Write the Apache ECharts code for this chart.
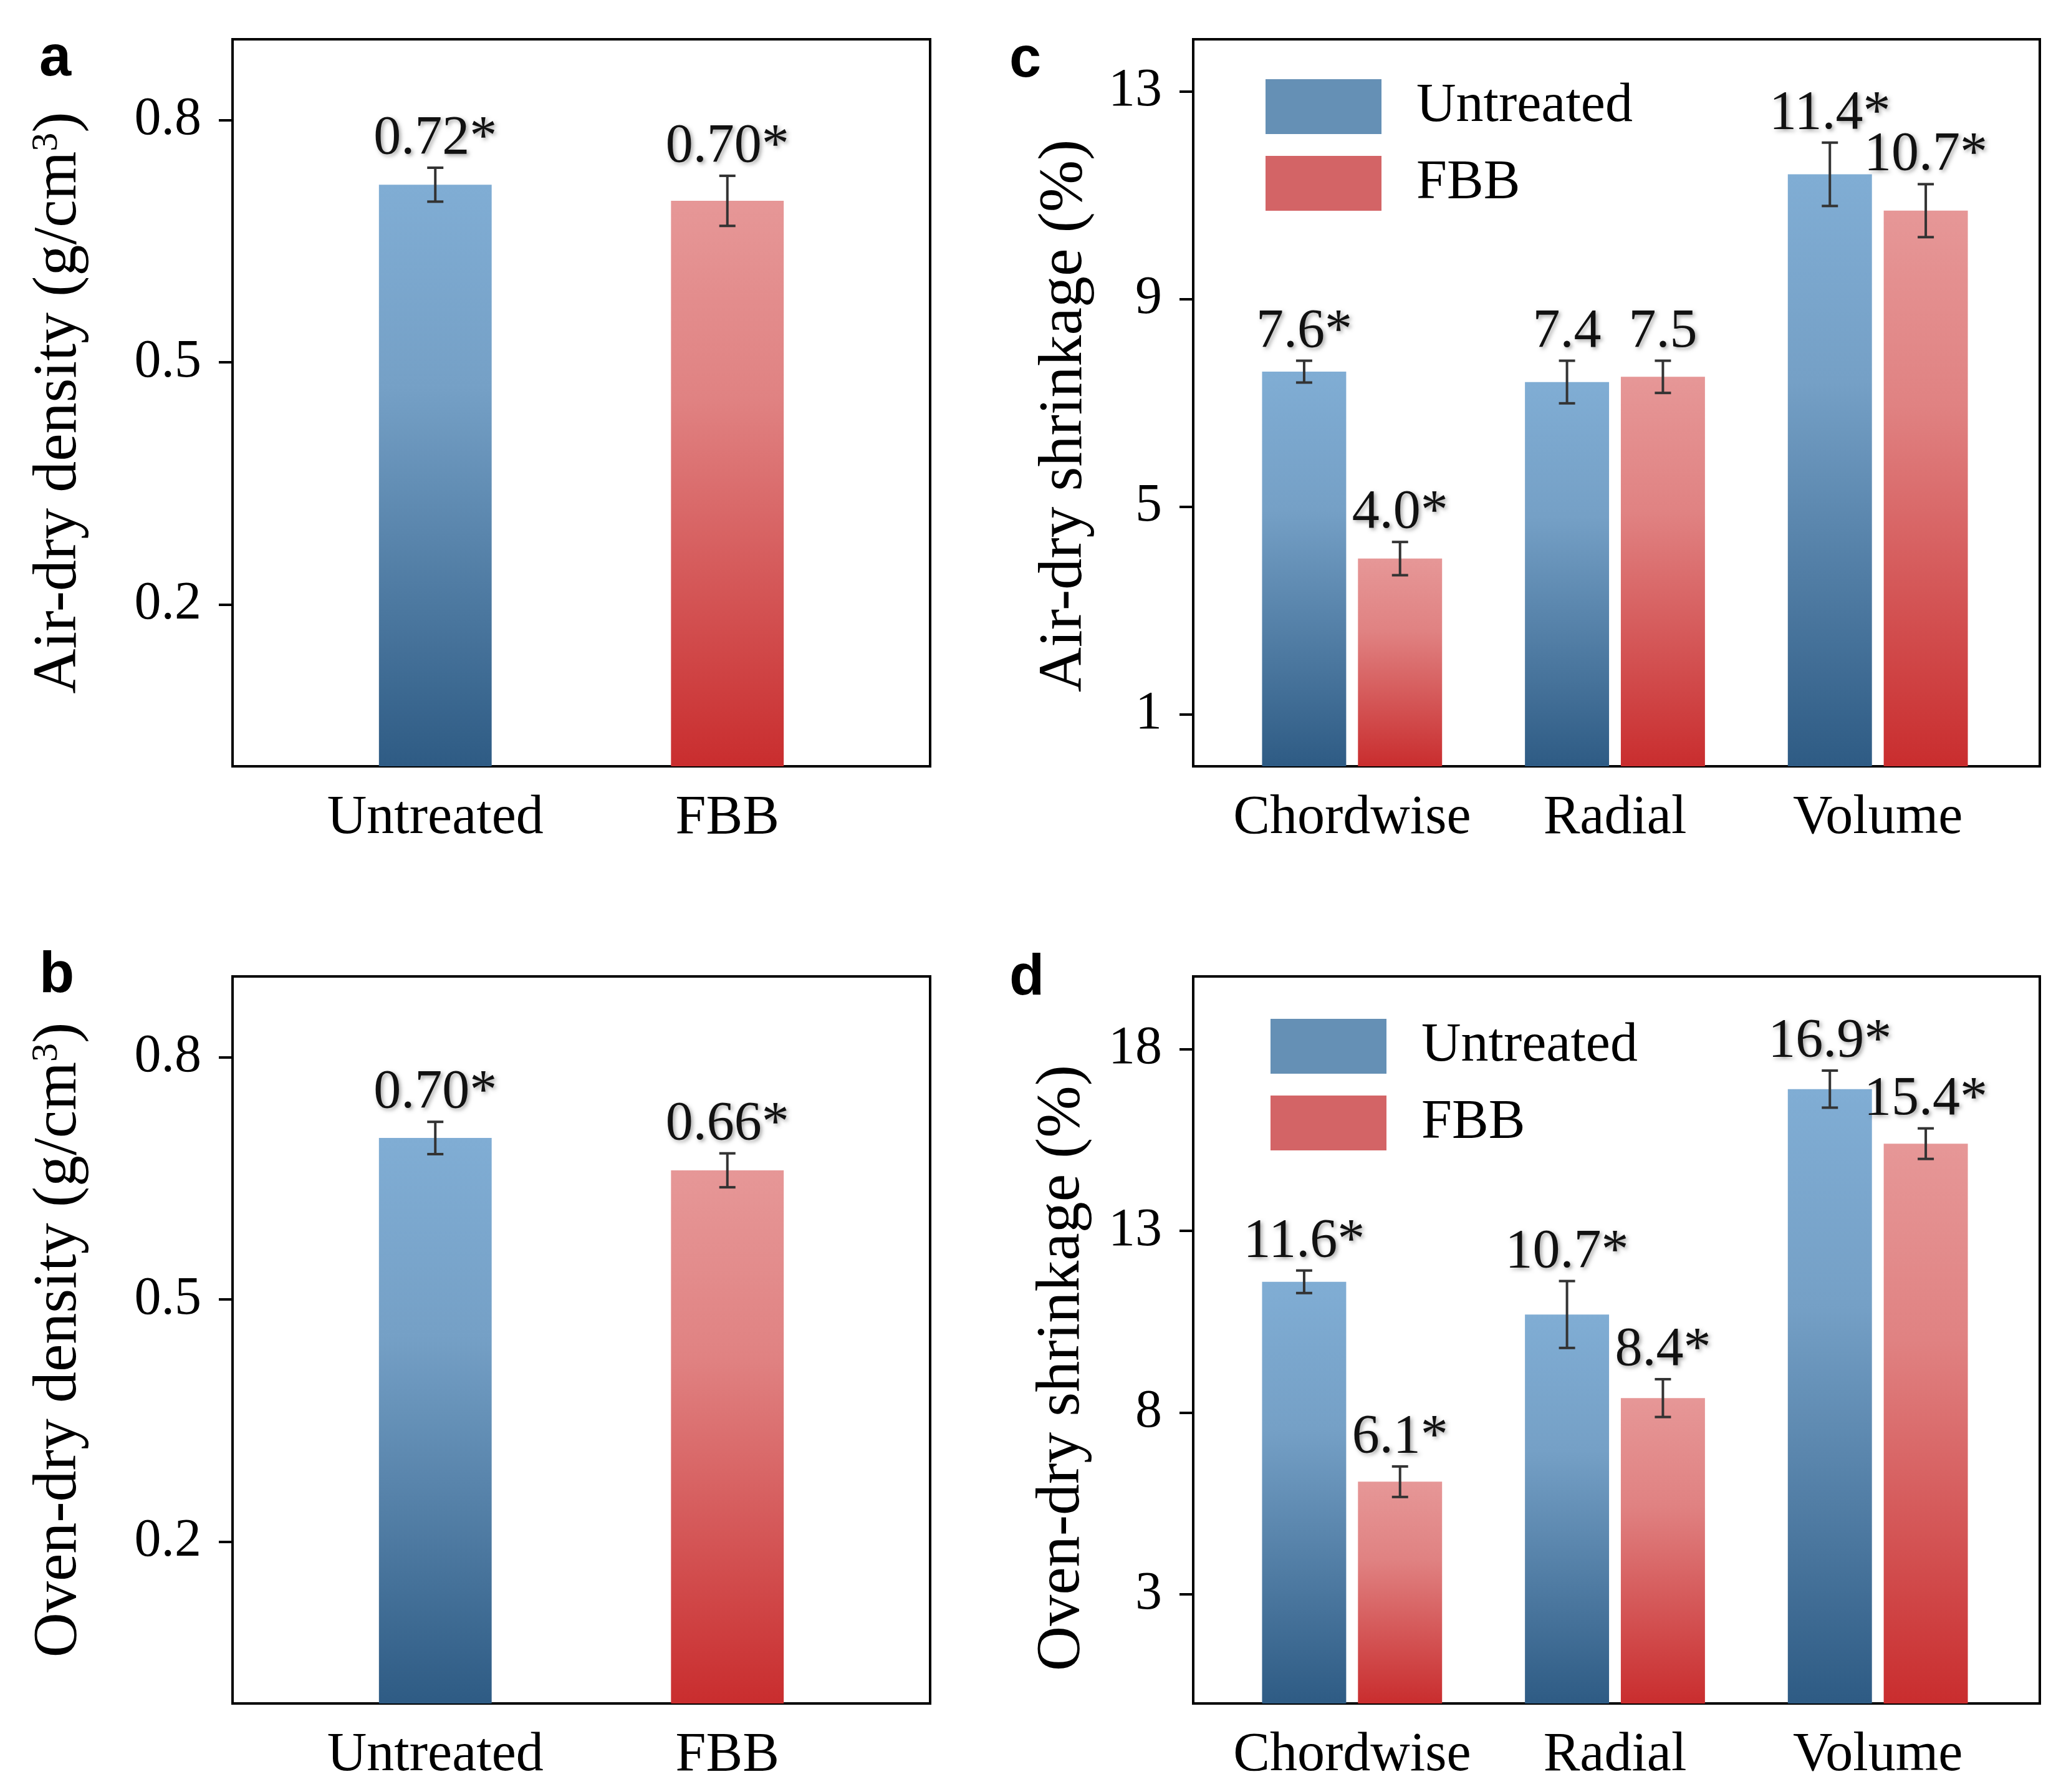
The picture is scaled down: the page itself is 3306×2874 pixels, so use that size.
<!DOCTYPE html>
<html><head><meta charset="utf-8">
<script src="https://cdn.jsdelivr.net/npm/echarts@6/dist/echarts.min.js"></script>
<style>html,body{margin:0;padding:0;background:#fff}#c{width:3306px;height:2874px}</style>
</head><body><div id="c"></div><script>
// ---- data ----
const densityCategories = ['Untreated', 'FBB'];
const shrinkCategories = ['Chordwise', 'Radial', 'Volume'];

const airDensity = [0.72, 0.70];
const airDensityErr = [0.021, 0.031];
const airDensitySig = ['*', '*'];

const ovenDensity = [0.70, 0.66];
const ovenDensityErr = [0.020, 0.021];
const ovenDensitySig = ['*', '*'];

const airShrinkUntreated = [7.6, 7.4, 11.4];
const airShrinkUntreatedErr = [0.21, 0.41, 0.61];
const airShrinkUntreatedSig = ['*', '', '*'];
const airShrinkFBB = [4.0, 7.5, 10.7];
const airShrinkFBBErr = [0.32, 0.31, 0.51];
const airShrinkFBBSig = ['*', '', '*'];

const ovenShrinkUntreated = [11.6, 10.7, 16.9];
const ovenShrinkUntreatedErr = [0.31, 0.92, 0.51];
const ovenShrinkUntreatedSig = ['*', '*', '*'];
const ovenShrinkFBB = [6.1, 8.4, 15.4];
const ovenShrinkFBBErr = [0.42, 0.52, 0.42];
const ovenShrinkFBBSig = ['*', '*', '*'];

const densityTicks = [0.2, 0.5, 0.8];
const airShrinkTicks = [1, 5, 9, 13];
const ovenShrinkTicks = [3, 8, 13, 18];

// ---- style ----
const SERIF = 'Liberation Serif';
const blueGrad = {type:'linear', x:0, y:0, x2:0, y2:1, colorStops:[
  {offset:0, color:'#80add4'}, {offset:0.35, color:'#75a0c6'}, {offset:1, color:'#2e5b84'}]};
const redGrad = {type:'linear', x:0, y:0, x2:0, y2:1, colorStops:[
  {offset:0, color:'#e69797'}, {offset:0.35, color:'#e08282'}, {offset:1, color:'#c92d2e'}]};

const FT = 63, FH = 1166, FT2 = 1566;
const frames = [
  {left:373, top:FT, width:1119, height:FH},   // a
  {left:373, top:FT2, width:1119, height:FH},  // b
  {left:1914, top:FT, width:1358, height:FH},  // c
  {left:1914, top:FT2, width:1358, height:FH}  // d
];
const dataGrids = [
  {left:464, top:FT, width:937, height:FH},
  {left:464, top:FT2, width:937, height:FH},
  {left:1958, top:FT, width:1265, height:FH},
  {left:1958, top:FT2, width:1265, height:FH}
];

const grid = [];
frames.forEach((f, i) => {
  grid.push(Object.assign({show:true, borderColor:'#000', borderWidth:4, backgroundColor:'transparent'}, f));
  grid.push(Object.assign({show:false}, dataGrids[i]));
});

function nameRich(pre, sup, post) {
  return sup ? '{t|' + pre + '}{s|' + sup + '}{t|' + post + '}' : '{t|' + pre + '}';
}
function nameStyle(shift) {
  return {padding:[0, shift, 0, 0], rich:{
    t:{fontSize:100, fontFamily:SERIF, color:'#000'},
    s:{fontSize:60, fontFamily:SERIF, color:'#000', verticalAlign:'top'}
  }};
}

function frameY(gi, min, max, ticks, name, gap, labelMargin, shift) {
  return {gridIndex:gi, type:'value', min:min, max:max,
    name:name, nameLocation:'middle', nameGap:gap, nameTextStyle:nameStyle(shift),
    axisLine:{show:true, lineStyle:{color:'#000', width:4}},
    axisTick:{show:true, customValues:ticks, length:22, lineStyle:{color:'#000', width:4}},
    axisLabel:{customValues:ticks, fontSize:86, fontFamily:SERIF, color:'#000', margin:labelMargin},
    splitLine:{show:false}};
}
function hiddenY(gi, min, max) {
  return {gridIndex:gi, type:'value', min:min, max:max, show:false, splitLine:{show:false}};
}

const xAxis = [], yAxis = [];
const panels = [
  {cats:densityCategories, min:0, max:0.9, ticks:densityTicks, name:nameRich('Air-dry density (g/cm','3',')'), gap:228, lm:50, shift:0},
  {cats:densityCategories, min:0, max:0.9, ticks:densityTicks, name:nameRich('Oven-dry density (g/cm','3',')'), gap:228, lm:50, shift:0},
  {cats:shrinkCategories, min:0, max:14, ticks:airShrinkTicks, name:nameRich('Air-dry shrinkage (%)'), gap:156, lm:50, shift:42},
  {cats:shrinkCategories, min:0, max:20, ticks:ovenShrinkTicks, name:nameRich('Oven-dry shrinkage (%)'), gap:160, lm:50, shift:90}
];
panels.forEach((p, i) => {
  const fg = i * 2, dg = i * 2 + 1;
  xAxis.push({gridIndex:fg, type:'value', show:false, min:0, max:1});
  xAxis.push({gridIndex:dg, type:'category', data:p.cats,
    axisLine:{show:false}, axisTick:{show:false},
    axisLabel:{interval:0, fontSize:88, fontFamily:SERIF, color:'#000', margin:40}});
  yAxis.push(frameY(fg, p.min, p.max, p.ticks, p.name, p.gap, p.lm, p.shift));
  yAxis.push(hiddenY(dg, p.min, p.max));
});

function errSeries(axisIdx, vals, errs, sigs, digits, offsetFrac) {
  return {
    type:'custom', xAxisIndex:axisIdx, yAxisIndex:axisIdx, z:5, silent:true,
    data: vals.map((v, i) => [i, v, errs[i]]),
    renderItem: function (params, api) {
      const c = api.value(0), v = api.value(1), e = api.value(2);
      const band = api.size([1, 0])[0];
      const x = api.coord([c, v])[0] + offsetFrac * band;
      const yT = api.coord([c, v + e])[1], yB = api.coord([c, v - e])[1];
      const cap = 13;
      const ls = {stroke:'#333', lineWidth:4};
      const txt = vals[params.dataIndex].toFixed(digits) + sigs[params.dataIndex];
      return {type:'group', children:[
        {type:'line', shape:{x1:x, y1:yT, x2:x, y2:yB}, style:ls},
        {type:'line', shape:{x1:x-cap, y1:yT, x2:x+cap, y2:yT}, style:ls},
        {type:'line', shape:{x1:x-cap, y1:yB, x2:x+cap, y2:yB}, style:ls},
        {type:'text', x:x, y:yT - 2, style:{text:txt, fontSize:88, fontFamily:SERIF, fill:'#111',
          align:'center', verticalAlign:'bottom',
          textShadowColor:'rgba(0,0,0,0.35)', textShadowBlur:6, textShadowOffsetX:3, textShadowOffsetY:3}}
      ]};
    }
  };
}

const series = [];
// density panels a (axis 1) and b (axis 3)
[[airDensity, airDensityErr, airDensitySig, 1, 'air density'],
 [ovenDensity, ovenDensityErr, ovenDensitySig, 3, 'oven density']].forEach(d => {
  series.push({type:'bar', name:d[4], xAxisIndex:d[3], yAxisIndex:d[3], barWidth:'38.6%',
    data: d[0].map((v, i) => ({value:v, itemStyle:{color: i === 0 ? blueGrad : redGrad}}))});
  series.push(errSeries(d[3], d[0], d[1], d[2], 2, 0));
});
// shrinkage panels c (axis 5) and d (axis 7)
const off = 0.32 * 1.14 / 2;
[[airShrinkUntreated, airShrinkUntreatedErr, airShrinkUntreatedSig, airShrinkFBB, airShrinkFBBErr, airShrinkFBBSig, 5],
 [ovenShrinkUntreated, ovenShrinkUntreatedErr, ovenShrinkUntreatedSig, ovenShrinkFBB, ovenShrinkFBBErr, ovenShrinkFBBSig, 7]].forEach(d => {
  series.push({type:'bar', name:'Untreated', xAxisIndex:d[6], yAxisIndex:d[6], barWidth:'32%', barGap:'14%',
    itemStyle:{color:blueGrad}, data:d[0]});
  series.push({type:'bar', name:'FBB', xAxisIndex:d[6], yAxisIndex:d[6], barWidth:'32%', barGap:'14%',
    itemStyle:{color:redGrad}, data:d[3]});
  series.push(errSeries(d[6], d[0], d[1], d[2], 1, -off));
  series.push(errSeries(d[6], d[3], d[4], d[5], 1, off));
});

function legendAt(left, top) {
  return {orient:'vertical', left:left, top:top, padding:0, itemWidth:186, itemHeight:88, itemGap:35,
    icon:'rect', selectedMode:false,
    textStyle:{fontSize:88, fontFamily:SERIF, color:'#000', padding:[12,0,0,51]},
    data:[{name:'Untreated', itemStyle:{color:'#6590b5'}}, {name:'FBB', itemStyle:{color:'#d36466'}}]};
}

const letterFont = 'bold 92px "Liberation Sans"';
function letter(t, x, y) {
  return {type:'text', left:x, top:y, style:{text:t, font:letterFont, fill:'#000'}};
}

const chart = echarts.init(document.getElementById('c'));
chart.setOption({
  animation:false,
  backgroundColor:'#fff',
  grid:grid, xAxis:xAxis, yAxis:yAxis, series:series,
  legend:[legendAt(2030, 127), legendAt(2038, 1634)],
  graphic:[letter('a', 63, 50), letter('b', 63, 1520), letter('c', 1619, 52), letter('d', 1619, 1524)]
});
</script></body></html>
